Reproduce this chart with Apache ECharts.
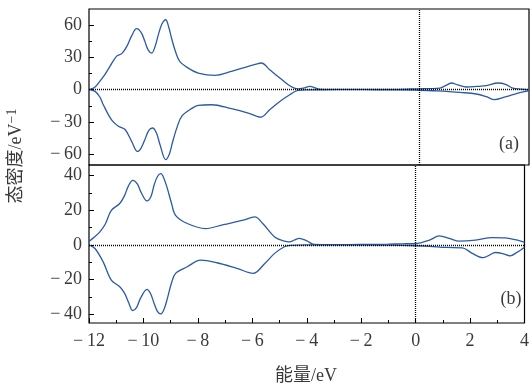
<!DOCTYPE html>
<html>
<head>
<meta charset="utf-8">
<script src="https://cdn.jsdelivr.net/npm/echarts@6/dist/echarts.min.js"></script>
<style>
  html, body { margin: 0; padding: 0; background: #fff; }
  #chart { width: 532px; height: 387px; }
</style>
</head>
<body>
<div id="chart"></div>
<script>
// (a) 上半部分 自旋向上 / 向下
const energyAUp = [-12, -11.8, -11.66, -11.45, -11.24, -11.0, -10.81, -10.63, -10.45, -10.27, -10.1, -9.97, -9.85, -9.72, -9.6, -9.48, -9.35, -9.21, -9.1, -9.0, -8.85, -8.7, -8.39, -8.03, -7.42, -6.82, -6.21, -5.95, -5.73, -5.43, -5.06, -4.7, -4.4, -4.2, -3.97, -3.75, -3.6, -3, -2, -1, -0.5, 0, 0.4, 0.76, 0.95, 1.18, 1.4, 1.72, 2.1, 2.45, 2.87, 3.15, 3.41, 3.7, 3.96, 4];
const dosAUp = [0, 2, 6, 13, 21.7, 31, 33.5, 40, 50, 56.7, 53, 45, 37, 34, 40, 51, 61, 65, 58, 48, 35, 26.3, 20, 15.5, 13.3, 17, 21.7, 23.5, 24.8, 18.6, 10.9, 3.7, 0.8, 1.5, 3, 1.5, 0.5, 0.2, 0.2, 0.3, 0.5, 0.8, 1, 1.5, 3.5, 6.2, 4.5, 2.5, 3, 3.7, 6.2, 5, 1.5, 0.5, 0, 0];
const energyADown = [-12, -11.78, -11.6, -11.48, -11.18, -10.93, -10.69, -10.45, -10.24, -10.1, -9.97, -9.83, -9.69, -9.55, -9.42, -9.21, -9.08, -8.97, -8.8, -8.63, -8.3, -8.03, -7.54, -6.82, -6.21, -5.75, -5.43, -5.06, -4.7, -4.4, -4.0, -3, -2, -1, 0, 0.5, 1, 1.49, 2.08, 2.45, 2.75, 3.1, 3.41, 3.7, 3.96, 4];
const dosADown = [0, -1.6, -7, -14, -28, -34, -37, -48, -57.4, -54, -46.5, -38, -35.6, -40, -51, -65, -60, -49.6, -35, -24.8, -18, -14.6, -14, -17.7, -21.7, -25.5, -18.6, -10.9, -4.7, -0.6, -0.2, 0, 0, -0.2, -0.5, -1, -1.5, -2.5, -4, -6.5, -9.3, -7, -4.6, -2.5, -1, -0.5];

// (b) 下半部分
const energyBUp = [-12, -11.8, -11.6, -11.4, -11.18, -10.87, -10.69, -10.55, -10.39, -10.22, -10.09, -9.87, -9.72, -9.61, -9.48, -9.36, -9.24, -9.12, -8.97, -8.82, -8.39, -7.72, -7.06, -6.33, -5.91, -5.6, -5.18, -4.82, -4.64, -4.45, -4.28, -4.1, -3.97, -3.73, -3, -2, -1, -0.5, 0.04, 0.51, 0.87, 1.24, 1.6, 2.2, 2.81, 3.29, 3.65, 3.96, 4];
const dosBUp = [2, 4.5, 7.5, 12, 19.9, 23.8, 28.5, 34, 37.1, 35, 30.4, 25.3, 28, 34.3, 39.5, 41, 38, 32.4, 24, 17, 12.3, 9.4, 11.7, 14.2, 16.1, 12, 4.6, 2.1, 1.7, 2.8, 3.7, 3, 2.1, 0.2, 0.1, 0.2, 0.4, 0.6, 0.8, 2.7, 5.2, 3.7, 2.1, 2.7, 4.2, 4, 3, 1.7, 1.5];
const energyBDown = [-12, -11.78, -11.48, -11.18, -10.87, -10.69, -10.55, -10.39, -10.25, -10.11, -9.87, -9.74, -9.61, -9.48, -9.36, -9.24, -9.12, -8.97, -8.82, -8.39, -7.9, -7.3, -6.57, -5.97, -5.54, -5.18, -4.82, -4.6, -4, -3, -2, -1, 0, 0.5, 1.11, 1.72, 2.08, 2.47, 2.7, 2.93, 3.2, 3.47, 3.75, 3.96, 4];
const dosBDown = [0, -2.1, -9.8, -20.3, -24.1, -27.9, -33, -37.9, -36, -30.8, -25.6, -28, -33.6, -38.5, -39.8, -37, -30.8, -22, -16.4, -12.6, -8.8, -10.3, -13.5, -16.4, -10.7, -4.9, -1.1, -0.3, 0, 0, 0, -0.2, -0.5, -0.8, -1.5, -1.7, -4.9, -7.4, -6, -4.4, -5, -6.3, -4, -1.9, -1.5];

// 刻度
const ticksA = [-60, -30, 0, 30, 60];
const minorTicksA = [-45, -15, 15, 45];
const ticksB = [-40, -20, 0, 20, 40];
const minorTicksB = [-30, -10, 10, 30];

const FONT = "'Liberation Serif', 'Noto Sans CJK SC', serif";
const LINE_COLOR = "#2b5aa8";
const TEXT_COLOR = "#3a3a3a";

function fmtMinus(v) {
    return v < 0 ? "\u2212\u2009" + Math.abs(v) : String(v);
}
function zip(xs, ys) {
    return xs.map((x, i) => [x, ys[i]]);
}

let chart = echarts.init(document.getElementById("chart"));

function yAxes(gridIndex, min, max, major, minor) {
    return [{
        type: "value", gridIndex: gridIndex, min: min, max: max,
        axisLine: { show: false, onZero: false },
        splitLine: { show: false },
        axisTick: { show: true, inside: true, length: 5, customValues: major, lineStyle: { color: "#000" } },
        axisLabel: { customValues: major, formatter: fmtMinus, fontFamily: FONT, fontSize: 18, color: TEXT_COLOR, margin: 7 }
    }, {
        type: "value", gridIndex: gridIndex, min: min, max: max, position: "left",
        axisLine: { show: false, onZero: false },
        splitLine: { show: false },
        axisTick: { show: true, inside: true, length: 3, customValues: minor, lineStyle: { color: "#000" } },
        axisLabel: { show: false }
    }];
}

let zeroLines = {
    silent: true,
    symbol: "none",
    label: { show: false },
    lineStyle: { type: [1, 1], color: "#000", width: 1.3 },
    data: [{ yAxis: 0 }, { xAxis: 0 }]
};

function lineSeries(x, y, xi, yi, withMark) {
    let s = {
        type: "line", xAxisIndex: xi, yAxisIndex: yi,
        data: zip(x, y),
        smooth: 0.35,
        showSymbol: false,
        lineStyle: { color: LINE_COLOR, width: 1.3 },
        z: 3
    };
    if (withMark) s.markLine = zeroLines;
    return s;
}

let option = {
    animation: false,
    grid: [
        { left: 89, width: 440, top: 9, height: 156, show: true, borderColor: "#000", borderWidth: 1.2, backgroundColor: "transparent" },
        { left: 89, width: 440, top: 165, height: 158, show: true, borderColor: "#000", borderWidth: 1.2, backgroundColor: "transparent" }
    ],
    xAxis: [{
        type: "value", gridIndex: 0, min: -12, max: 4, interval: 2,
        axisLine: { show: false, onZero: false }, axisTick: { show: false }, axisLabel: { show: false }, splitLine: { show: false }
    }, {
        type: "value", gridIndex: 1, min: -12, max: 4, interval: 2,
        axisLine: { show: false, onZero: false },
        splitLine: { show: false },
        axisTick: { show: true, inside: true, length: 5, lineStyle: { color: "#000" } },
        minorTick: { show: true, splitNumber: 2, length: 3, lineStyle: { color: "#000" } },
        axisLabel: { formatter: fmtMinus, fontFamily: FONT, fontSize: 18, color: TEXT_COLOR, margin: 9 }
    }],
    yAxis: yAxes(0, -70, 75, ticksA, minorTicksA).concat(yAxes(1, -45, 46, ticksB, minorTicksB)),
    series: [
        lineSeries(energyAUp, dosAUp, 0, 0, true),
        lineSeries(energyADown, dosADown, 0, 0, false),
        lineSeries(energyBUp, dosBUp, 1, 2, true),
        lineSeries(energyBDown, dosBDown, 1, 2, false)
    ],
    graphic: [{
        type: "text", x: 16, y: 156, rotation: Math.PI / 2,
        style: {
            text: "态密度/eV{sup|\u22121}",
            rich: { sup: { fontSize: 14, fontFamily: FONT, fill: TEXT_COLOR, verticalAlign: "top", lineHeight: 22 } },
            fontFamily: FONT, fontSize: 18, fill: TEXT_COLOR, lineHeight: 22,
            align: "center", verticalAlign: "middle"
        }
    }, {
        type: "text", x: 306, y: 376,
        style: { text: "能量/eV", fontFamily: FONT, fontSize: 18, fill: TEXT_COLOR, align: "center", verticalAlign: "middle" }
    }, {
        type: "text", x: 509, y: 144,
        style: { text: "(a)", fontFamily: FONT, fontSize: 18, fill: TEXT_COLOR, align: "center", verticalAlign: "middle" }
    }, {
        type: "text", x: 511, y: 299,
        style: { text: "(b)", fontFamily: FONT, fontSize: 18, fill: TEXT_COLOR, align: "center", verticalAlign: "middle" }
    }]
};

chart.setOption(option);
</script>
</body>
</html>
